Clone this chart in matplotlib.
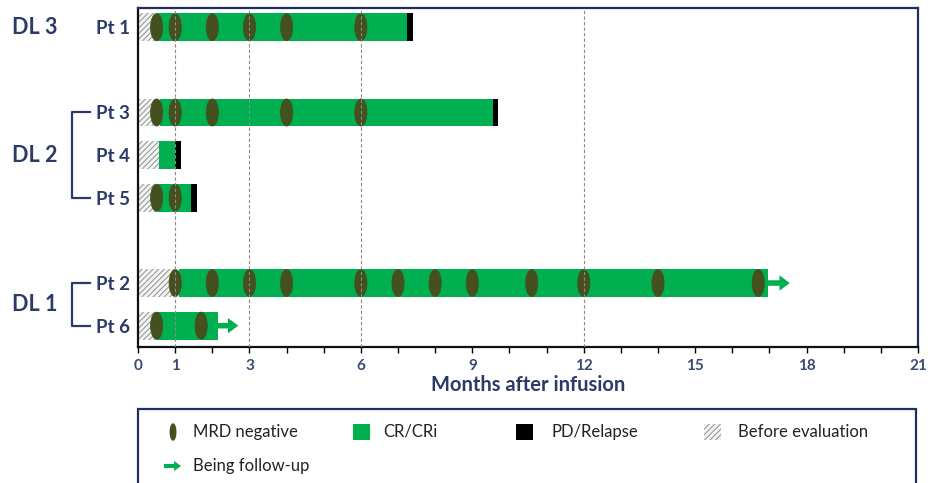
import matplotlib.pyplot as plt
from matplotlib.patches import Ellipse, Rectangle, FancyArrow
from matplotlib.lines import Line2D
import matplotlib.transforms as mtransforms

plt.rcParams['font.family'] = ['Lato', 'DejaVu Sans']
plt.rcParams['hatch.linewidth'] = 0.8

# swimmer data, months after infusion
dose_levels = ['DL 3', 'DL 2', 'DL 1']
dl_patients = [['Pt 1'], ['Pt 3', 'Pt 4', 'Pt 5'], ['Pt 2', 'Pt 6']]
before_eval = {'Pt 1': 0.5, 'Pt 3': 0.6, 'Pt 4': 0.57, 'Pt 5': 0.55, 'Pt 2': 1.1, 'Pt 6': 0.5}
cr_end = {'Pt 1': 7.25, 'Pt 3': 9.55, 'Pt 4': 1.0, 'Pt 5': 1.43, 'Pt 2': 16.95, 'Pt 6': 2.15}
pd_end = {'Pt 1': 7.4, 'Pt 3': 9.7, 'Pt 4': 1.16, 'Pt 5': 1.58}
follow_up_end = {'Pt 2': 17.55, 'Pt 6': 2.7}
mrd_neg = {
    'Pt 1': [0.5, 1, 2, 3, 4, 6],
    'Pt 3': [0.5, 1, 2, 4, 6],
    'Pt 4': [],
    'Pt 5': [0.5, 1],
    'Pt 2': [1, 2, 3, 4, 6, 7, 8, 9, 10.6, 12, 14, 16.7],
    'Pt 6': [0.5, 1.7],
}
xticks_labeled = [0, 1, 3, 6, 9, 12, 15, 18, 21]
ref_lines = [1, 3, 6, 12]

GREEN = '#00B050'
MRD = '#44501E'
NAVY = '#2B3A67'
FRAME = '#1F3060'
TXT = '#222222'

fig = plt.figure(figsize=(9.39, 4.83), dpi=100)
ax = fig.add_axes([0.147, 0.2816, 0.8306, 0.7018])

# rows, with a blank row between dose levels
rows = {}
y = 0
for pts in dl_patients:
    for p in pts:
        rows[p] = y
        y += 1
    y += 1

h = 0.65
for p, yy in rows.items():
    ax.barh(yy, before_eval[p], height=h, left=0, color='#F4F4F4',
            edgecolor='#9A9A9A', hatch='//////', linewidth=0, zorder=2)
    ax.barh(yy, cr_end[p] - before_eval[p], height=h, left=before_eval[p],
            color=GREEN, linewidth=0, zorder=3)
    if p in pd_end:
        ax.barh(yy, pd_end[p] - cr_end[p], height=h, left=cr_end[p],
                color='black', linewidth=0, zorder=3)
    if p in follow_up_end:
        ax.add_patch(FancyArrow(cr_end[p], yy, follow_up_end[p] - cr_end[p], 0,
                                width=0.13, head_width=0.36, head_length=0.28,
                                length_includes_head=True, color=GREEN,
                                linewidth=0, zorder=3))
    for m in mrd_neg[p]:
        ax.add_patch(Ellipse((m, yy), 0.33, h * 0.98, facecolor=MRD,
                             edgecolor=MRD, linewidth=0.5, zorder=4))

for x in ref_lines:
    ax.axvline(x, color='#8A8A8A', lw=0.8, ls=(0, (3, 2)), zorder=5)

ax.set_xlim(0, 21)
ax.set_ylim(7.5, -0.45)
ax.set_xticks(range(0, 22))
ax.set_xticklabels([str(t) if t in xticks_labeled else '' for t in range(0, 22)],
                   fontsize=11, fontweight='bold', color='#3A4A75')
ax.tick_params(axis='x', length=4, width=1, color='black', pad=5)
ax.set_xlabel('Months after infusion', fontsize=14.5, fontweight='bold',
              color=NAVY, labelpad=1)

ax.set_yticks(list(rows.values()))
ax.set_yticklabels(list(rows.keys()), fontsize=13.5, fontweight='bold', color=NAVY)
ax.tick_params(axis='y', length=0, pad=6)

for side in ['top', 'right']:
    ax.spines[side].set_color(FRAME)
    ax.spines[side].set_linewidth(1.6)
for side in ['left', 'bottom']:
    ax.spines[side].set_color('#111111')
    ax.spines[side].set_linewidth(1.6)

# dose level labels and brackets
trans = mtransforms.blended_transform_factory(ax.transAxes, ax.transData)
for dl, pts in zip(dose_levels, dl_patients):
    y0, y1 = rows[pts[0]], rows[pts[-1]]
    ax.text(-0.133, (y0 + y1) / 2, dl, transform=trans, ha='center', va='center',
            fontsize=15.5, fontweight='bold', color=NAVY)
    if len(pts) > 1:
        ax.add_line(Line2D([-0.062, -0.085, -0.085, -0.062], [y0, y0, y1, y1],
                           transform=trans, color=NAVY, lw=1.6, clip_on=False))

# legend box, drawn in pixel-like units
lg = fig.add_axes([0.147, 0.0, 0.8306, 0.1615])
lg.set_xlim(0, 780)
lg.set_ylim(78, 0)
lg.axis('off')
lg.add_patch(Rectangle((0, 4), 778, 90, facecolor='white', edgecolor=FRAME,
                       linewidth=1.6, clip_on=False, zorder=0))
ty = 27
fs = 12
lg.add_patch(Ellipse((35, ty), 5.5, 16, facecolor=MRD, edgecolor=MRD))
lg.text(55, ty, 'MRD negative', va='center', fontsize=fs, color=TXT)
lg.add_patch(Rectangle((215, ty - 8), 17, 16, facecolor=GREEN))
lg.text(245, ty, 'CR/CRi', va='center', fontsize=fs, color=TXT)
lg.add_patch(Rectangle((378, ty - 8), 17, 16, facecolor='black'))
lg.text(414, ty, 'PD/Relapse', va='center', fontsize=fs, color=TXT)
lg.add_patch(Rectangle((566, ty - 8), 17, 16, facecolor='#F4F4F4', edgecolor='#9A9A9A',
                       hatch='//////', linewidth=0))
lg.text(600, ty, 'Before evaluation', va='center', fontsize=fs, color=TXT)
ay = 61
lg.add_patch(FancyArrow(26, ay, 17, 0, width=4, head_width=10, head_length=7,
                        length_includes_head=True, color=GREEN, linewidth=0))
lg.text(55, ay, 'Being follow-up', va='center', fontsize=fs, color=TXT)

fig.savefig('out.png', dpi=100)
